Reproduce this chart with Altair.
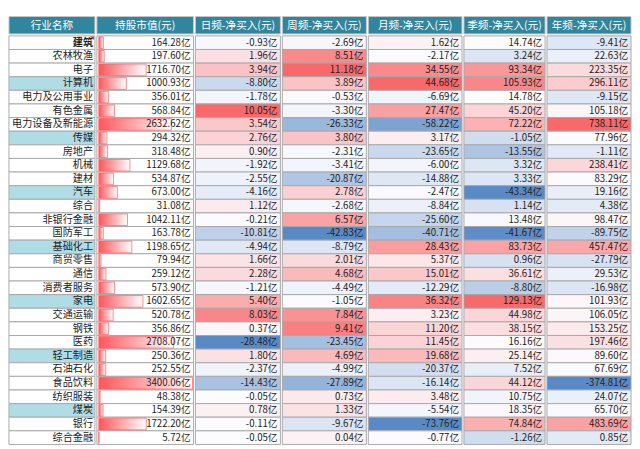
import altair as alt
import pandas as pd
import numpy as np

FONT = "Noto Sans CJK SC"

names = ["建筑", "农林牧渔", "电子", "计算机", "电力及公用事业", "有色金属", "电力设备及新能源",
         "传媒", "房地产", "机械", "建材", "汽车", "综合", "非银行金融", "国防军工", "基础化工",
         "商贸零售", "通信", "消费者服务", "家电", "交通运输", "钢铁", "医药", "轻工制造",
         "石油石化", "食品饮料", "纺织服装", "煤炭", "银行", "综合金融"]
cap = [164.28, 197.60, 1716.70, 1000.93, 356.01, 568.84, 2632.62, 294.32, 318.48, 1129.68,
       534.87, 673.00, 31.08, 1042.11, 163.78, 1198.65, 79.94, 259.12, 573.90, 1602.65,
       520.78, 356.86, 2708.07, 250.36, 252.55, 3400.06, 48.38, 154.39, 1722.20, 5.72]
daily = [-0.93, 1.96, 3.94, -8.80, -1.78, 10.05, 3.54, 2.76, 0.90, -1.92, -2.55, -4.16, 1.12,
         -0.21, -10.81, -4.94, 1.66, 2.28, -1.21, 5.40, 8.03, 0.37, -28.48, 1.80, -2.37,
         -14.43, -0.05, 0.78, -0.11, -0.05]
weekly = [-2.69, 8.51, 11.18, 3.89, -0.53, -3.30, -26.33, 3.80, -2.31, -3.41, -20.87, 2.78,
          -2.68, 6.57, -42.83, -8.79, 2.01, 4.68, -4.49, -1.05, 7.84, 9.41, -23.45, 4.69,
          -4.99, -27.89, 0.73, 1.33, -9.67, 0.04]
monthly = [1.62, -2.17, 34.55, 44.68, -6.69, 27.47, -58.22, 3.17, -23.65, -6.00, -14.88,
           -2.47, -8.84, -25.60, -40.71, 28.43, 5.37, 15.01, -12.29, 36.32, 3.23, 11.20,
           11.45, 19.68, -20.37, -16.14, 3.48, -5.54, -73.76, -0.77]
quarterly = [14.74, 3.24, 93.34, 105.93, 14.78, 45.20, 72.22, -1.05, -13.55, 3.32, 3.33,
             -43.34, 1.14, 13.48, -41.67, 83.73, 0.96, 36.61, -8.80, 129.13, 44.98, 38.15,
             16.16, 25.14, 7.52, 44.12, 10.75, 18.35, 74.84, -1.26]
yearly = [-9.41, 22.63, 223.35, 296.11, -9.15, 105.18, 738.11, 77.96, -1.11, 238.41, 83.29,
          19.16, 4.38, 98.47, -89.75, 457.47, -27.79, 29.53, -16.98, 101.93, 106.05, 153.25,
          197.46, 89.60, 67.69, -374.81, 24.07, 65.70, 483.69, 0.85]
highlight = ["计算机", "传媒", "汽车", "基础化工", "家电", "轻工制造", "煤炭"]
bold_names = ["建筑"]
headers = ["行业名称", "持股市值(元)", "日频-净买入(元)", "周频-净买入(元)",
           "月频-净买入(元)", "季频-净买入(元)", "年频-净买入(元)"]

WIDTHS = [89, 100, 88, 87, 97, 84, 87]
HEAD_H = 18
BODY_H = 423
TEAL = "#31859C"
HL = "#B0DCE6"
GRID = "#A8A8A8"
RED = "#F8696B"
BLUE = "#5A8AC6"
MIDC = "#FCFCFF"
BARRED = "#FF555A"
TXT = "#222222"
NUM_FS = 10
NAME_FS = 10.5
HEAD_FS = 11

df = pd.DataFrame({"name": names, "cap": cap, "d": daily, "w": weekly, "m": monthly,
                   "q": quarterly, "y": yearly})
df["hl"] = ["y" if n in highlight else "n" for n in names]
df["isbold"] = [n in bold_names for n in names]
for f in ["cap", "d", "w", "m", "q", "y"]:
    df[f + "_lbl"] = [f"{v:.2f}亿" for v in df[f]]

yscale = alt.Scale(domain=names, paddingInner=0, paddingOuter=0)
yenc = alt.Y("name:N", scale=yscale, axis=None)


def header(title, w):
    base = alt.Chart(pd.DataFrame({"h": [title]}))
    r = base.mark_rect(fill=TEAL, stroke="#C8C8C8", strokeWidth=1).encode(
        x=alt.value(0), x2=alt.value(w), y=alt.value(0), y2=alt.value(HEAD_H))
    t = base.mark_text(color="white", fontSize=HEAD_FS, font=FONT, baseline="middle",
                       align="center").encode(x=alt.value(w / 2), y=alt.value(HEAD_H / 2 + 0.5),
                                              text="h:N")
    return alt.layer(r, t).properties(width=w, height=HEAD_H)


def name_panel(w):
    base = alt.Chart(df).encode(y=yenc)
    r = base.mark_rect(stroke=GRID, strokeWidth=1).encode(
        x=alt.value(0), x2=alt.value(w),
        color=alt.Color("hl:N", scale=alt.Scale(domain=["n", "y"], range=["#FFFFFF", HL]),
                        legend=None))
    t1 = base.transform_filter("!datum.isbold").mark_text(
        align="right", baseline="middle", fontSize=NAME_FS, font=FONT, color=TXT).encode(
        x=alt.value(w - 2), text="name:N")
    t2 = base.transform_filter("datum.isbold").mark_text(
        align="right", baseline="middle", fontSize=NAME_FS, font=FONT, color=TXT,
        fontWeight="bold").encode(x=alt.value(w - 2), text="name:N")
    tri = alt.Chart(df).transform_filter("datum.isbold").mark_point(
        shape="M -1 -1 L 1 -1 L 1 1 Z", filled=True, color="#E02020", opacity=1,
        size=14, yOffset=2.5).encode(
        x=alt.value(w - 3),
        y=alt.Y("name:N", scale=yscale, axis=None, bandPosition=0))
    return alt.layer(r, t1, t2, tri).properties(width=w, height=BODY_H)


def cap_panel(w):
    base = alt.Chart(df).encode(y=yenc)
    r = base.mark_rect(stroke=GRID, strokeWidth=1, fill="white").encode(
        x=alt.value(0), x2=alt.value(w))
    grad = alt.Gradient(gradient="linear",
                        stops=[alt.GradientStop(color=BARRED, offset=0),
                               alt.GradientStop(color="#FFFFFF", offset=1)],
                        x1=0, x2=1, y1=0, y2=0)
    b = base.mark_bar(fill=grad, stroke=BARRED, strokeWidth=1, strokeOpacity=0.7,
                      height={"band": 0.86}).encode(
        x=alt.X("cap:Q", scale=alt.Scale(domain=[0, max(cap)], range=[2, w - 1]), axis=None))
    t = base.mark_text(align="right", baseline="middle", fontSize=NUM_FS, font=FONT,
                       color=TXT).encode(x=alt.value(w - 3), text="cap_lbl:N")
    return alt.layer(r, b, t).properties(width=w, height=BODY_H)


def num_panel(field, vals, w):
    dom = [min(vals), float(np.median(vals)), max(vals)]
    base = alt.Chart(df).encode(y=yenc)
    r = base.mark_rect(stroke=GRID, strokeWidth=1).encode(
        x=alt.value(0), x2=alt.value(w),
        color=alt.Color(f"{field}:Q", scale=alt.Scale(domain=dom, range=[BLUE, MIDC, RED],
                                                      interpolate="rgb"),
                        legend=None))
    t = base.mark_text(align="right", baseline="middle", fontSize=NUM_FS, font=FONT,
                       color=TXT).encode(x=alt.value(w - 3), text=f"{field}_lbl:N")
    return alt.layer(r, t).properties(width=w, height=BODY_H)


head_row = alt.hconcat(*[header(h, w) for h, w in zip(headers, WIDTHS)], spacing=0)
bodies = [name_panel(WIDTHS[0]), cap_panel(WIDTHS[1])]
for f, vals, w in zip(["d", "w", "m", "q", "y"], [daily, weekly, monthly, quarterly, yearly],
                      WIDTHS[2:]):
    bodies.append(num_panel(f, vals, w))
body_row = alt.hconcat(*bodies, spacing=0).resolve_scale(color="independent", x="independent")

chart = alt.vconcat(head_row, body_row, spacing=0).resolve_scale(
    color="independent", x="independent").properties(padding=0).configure_view(
    stroke=None).configure_concat(spacing=0)

chart.save("out.html", embed_options={"renderer": "svg", "actions": False})
